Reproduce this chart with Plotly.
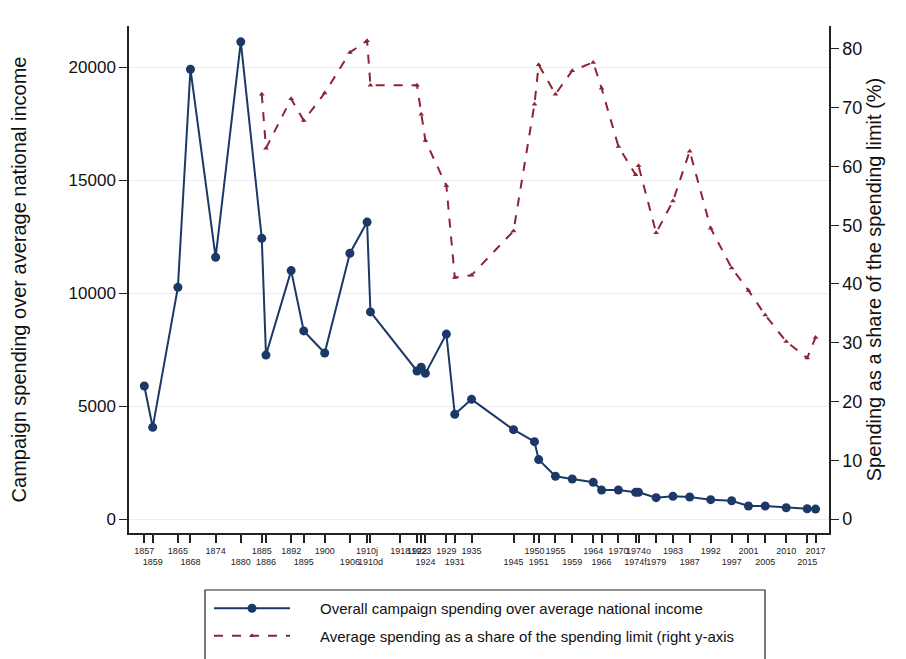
import plotly.graph_objects as go

# Election positions on a year scale (1910 and 1974 each had two elections)
election_pos = [1857, 1859, 1865, 1868, 1874, 1880, 1885, 1886, 1892, 1895, 1900, 1906,
                1910.1, 1910.9, 1918, 1922, 1923, 1924, 1929, 1931, 1935, 1945, 1950, 1951,
                1955, 1959, 1964, 1966, 1970, 1974.1, 1974.8, 1979, 1983, 1987, 1992, 1997,
                2001, 2005, 2010, 2015, 2017]
election_labels = ["1857", "1859", "1865", "1868", "1874", "1880", "1885", "1886", "1892", "1895",
                   "1900", "1906", "1910j", "1910d", "1918", "1922", "1923", "1924", "1929", "1931",
                   "1935", "1945", "1950", "1951", "1955", "1959", "1964", "1966", "1970", "1974f",
                   "1974o", "1979", "1983", "1987", "1992", "1997", "2001", "2005", "2010", "2015",
                   "2017"]
label_row = [0, 1, 0, 1, 0, 1, 0, 1, 0, 1,
             0, 1, 0, 1, 0, 0, 0, 1, 0, 1,
             0, 1, 0, 1, 0, 1, 0, 1, 0, 1,
             0, 1, 0, 1, 0, 1, 0, 1, 0, 1,
             0]

spending_over_income = [5890, 4060, 10260, 19920, 11590, 21130, 12430, 7260, 11000, 8330,
                        7350, 11770, 13150, 9170, None, 6555, 6720, 6450, 8190, 4635,
                        5300, 3955, 3425, 2630, 1890, 1770, 1625, 1280, 1285, 1180,
                        1180, 945, 1005, 975, 855, 810, 575, 575, 500, 456,
                        440]
share_of_limit = [None, None, None, None, None, None, 72.3, 63.1, 71.5, 67.8,
                  72.5, 79.4, 81.4, 73.8, None, 73.8, 68.9, 64.4, 56.7, 41.1,
                  41.5, 49.0, 70.6, 77.3, 72.3, 76.3, 77.7, 73.3, 63.4, 58.6,
                  60.1, 48.7, 54.1, 62.6, 49.5, 42.7, 38.9, 34.7, 30.2, 27.4,
                  30.9]

left_ticks = [0, 5000, 10000, 15000, 20000]
right_ticks = [0, 10, 20, 30, 40, 50, 60, 70, 80]

navy = "#1b3866"
maroon = "#8e2433"
FONT = "Arial, Liberation Sans, sans-serif"
PAD = "\u00a0" * 6

ticktext = [("<br>" + lab) if row == 1 else lab for lab, row in zip(election_labels, label_row)]

fig = go.Figure()
fig.add_trace(go.Scatter(
    x=election_pos, y=spending_over_income, mode="lines+markers", connectgaps=True,
    name=PAD + "Overall campaign spending over average national income", legendgroup="a",
    line=dict(color=navy, width=2), marker=dict(color=navy, size=9, symbol="circle"),
    yaxis="y"))
fig.add_trace(go.Scatter(
    x=election_pos, y=share_of_limit, mode="lines+markers", connectgaps=True,
    name=PAD + "Average spending as a share of the spending limit (right y-axis", legendgroup="b",
    line=dict(color=maroon, width=2, dash="dash"),
    marker=dict(color=maroon, size=5, symbol="triangle-up"),
    yaxis="y2"))

# page body has an 8px margin: plot area sits at x 129..829, y 26..533 in the page
fig.update_layout(
    width=906, height=659,
    margin=dict(l=121, r=85, t=18, b=134, autoexpand=False),
    paper_bgcolor="white", plot_bgcolor="white",
    font=dict(family=FONT, color="#111111"),
    showlegend=True,
    legend=dict(x=(209 - 129) / 700, y=(533 - 592) / 507, xanchor="left", yanchor="top",
                orientation="v", bgcolor="rgba(0,0,0,0)", borderwidth=0,
                font=dict(size=15, family=FONT), itemwidth=76, tracegroupgap=5),
    xaxis=dict(range=[1853.35, 2020.2], tickmode="array", tickvals=election_pos,
               ticktext=ticktext, tickfont=dict(size=9, family=FONT, color="#222"),
               ticks="outside", ticklen=8, tickwidth=1.5, tickcolor="#222",
               showline=True, linecolor="#222", linewidth=1.5, showgrid=False,
               zeroline=False, tickangle=0, automargin=False),
    yaxis=dict(range=[-620, 21833], tickmode="array", tickvals=left_ticks,
               tickformat="d", tickfont=dict(size=17, family=FONT),
               ticks="outside", ticklen=8, tickwidth=1.2, tickcolor="#222",
               showline=True, linecolor="#222", linewidth=1.5,
               showgrid=True, gridcolor="#e6eef1", gridwidth=1, zeroline=False,
               automargin=False,
               title=dict(text="Campaign spending over average national income",
                          font=dict(size=20, family=FONT), standoff=50)),
    yaxis2=dict(range=[-2.38, 83.9], overlaying="y", side="right", tickmode="array",
                tickvals=right_ticks, tickfont=dict(size=18, family=FONT),
                ticks="outside", ticklen=8, tickwidth=1.2, tickcolor="#222",
                showline=True, linecolor="#222", linewidth=1.5, showgrid=False,
                zeroline=False, automargin=False,
                title=dict(text="Spending as a share of the spending limit (%)",
                           font=dict(size=20, family=FONT), standoff=6)),
    shapes=[dict(type="rect", xref="paper", yref="paper",
                 x0=(205 - 129) / 700, x1=(765 - 129) / 700,
                 y0=(533 - 668) / 507, y1=(533 - 590) / 507,
                 line=dict(color="#222", width=1.2), fillcolor="rgba(0,0,0,0)")],
)

fig.write_html("out.html")
